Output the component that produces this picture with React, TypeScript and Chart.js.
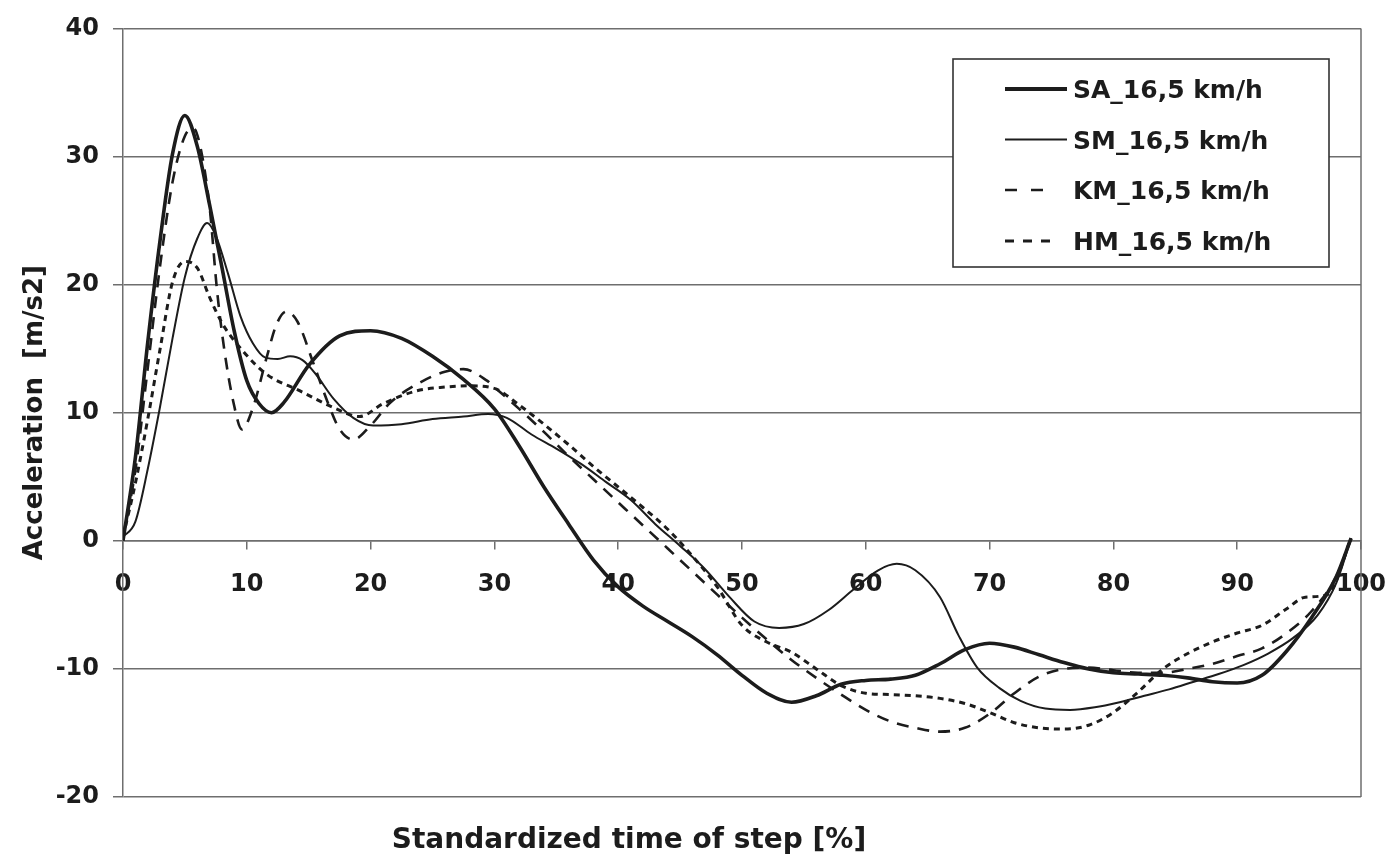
import React, { useEffect, useRef } from "react";
import { Chart, registerables } from "chart.js";

Chart.register(...registerables);

// ---- data ----
const SERIES_NAMES = ["SA_16,5 km/h", "SM_16,5 km/h", "KM_16,5 km/h", "HM_16,5 km/h"];
const X_TITLE = "Standardized time of step [%]";
const Y_TITLE = "Acceleration  [m/s2]";

const SA_X = [0, 1, 2, 3, 4, 5, 6, 7, 8, 9, 10, 11, 12, 13, 15, 17.5, 20, 22.5, 25, 27.5, 30, 32, 34, 36, 38, 40, 42, 44, 46, 48, 50, 52, 54, 56, 58, 60, 62, 64, 66, 68, 70, 72, 74, 76, 78, 80, 82, 84, 86, 88, 90, 92, 94, 96, 98, 99.2];
const SA_Y = [0, 6.5, 15.5, 23.5, 30.2, 33.2, 30.8, 26.2, 21.3, 16.3, 12.5, 10.7, 10.0, 10.8, 13.7, 16.0, 16.4, 15.8, 14.4, 12.6, 10.3, 7.4, 4.2, 1.3, -1.5, -3.6, -5.1, -6.3, -7.5, -8.9, -10.5, -11.9, -12.6, -12.1, -11.2, -10.9, -10.8, -10.5, -9.6, -8.5, -8.0, -8.3, -8.9, -9.5, -10.0, -10.3, -10.4, -10.5, -10.7, -11.0, -11.1, -10.5, -8.6, -6.0, -2.8, 0.2];

const SM_X = [0, 1, 2, 3, 4, 5, 6, 6.8, 7.5, 8.5, 9.5, 10.5, 11.5, 12.5, 13.5, 14.5, 15.5, 17, 18.6, 20.2, 22.5, 25, 27.5, 29.5, 31, 33, 35, 37, 39, 41, 43, 45, 47, 49, 51, 53, 55, 57, 59, 61, 62.5, 64, 66, 67.5, 69, 70.8, 72.5, 74.5, 76.5, 78.5, 80.5, 82.5, 84.5, 86.5, 88.5, 90.5, 92.5, 94.5, 96.5, 98, 99.2];
const SM_Y = [0.3, 1.5, 5.6, 10.5, 15.8, 20.6, 23.6, 24.8, 23.8, 20.8, 17.5, 15.4, 14.3, 14.2, 14.4, 14.1, 13.1, 11.1, 9.6, 9.0, 9.1, 9.5, 9.7, 9.9, 9.6, 8.3, 7.2, 6.0, 4.6, 3.2, 1.3, -0.4, -2.2, -4.4, -6.3, -6.8, -6.5, -5.4, -3.8, -2.3, -1.8, -2.3, -4.4, -7.4, -9.9, -11.5, -12.5, -13.1, -13.2, -13.0, -12.6, -12.1, -11.6, -11.0, -10.4, -9.7, -8.8, -7.6, -5.8, -3.3, 0.2];

const KM_X = [0, 1, 2, 3, 4, 5, 5.7, 6.3, 7, 7.6, 8.2, 8.9, 9.6, 10.5, 11.6, 12.4, 13.2, 14.1, 15.4, 16.5, 17.5, 18.6, 20, 21.6, 23.7, 26, 27.5, 29.4, 30, 32, 34, 36, 38, 40, 42, 44, 46, 48, 50, 52, 54, 56, 58, 60, 62, 64, 66, 68, 70, 72, 74, 76, 78, 80, 82, 84, 86, 88, 90, 92, 94, 96, 98, 99.2];
const KM_Y = [0.3, 5.5, 13.5, 21.5, 28.0, 31.6, 32.2, 30.5, 26.0, 19.5, 14.8, 10.9, 8.7, 10.4, 14.3, 16.9, 17.9, 17.1, 13.8, 10.9, 8.7, 7.9, 9.0, 10.8, 12.2, 13.2, 13.4, 12.5, 12.0, 10.3, 8.5, 6.6, 4.8, 3.0, 1.2, -0.6, -2.4, -4.2, -6.0, -7.7, -9.3, -10.7, -12.0, -13.2, -14.1, -14.6, -14.9, -14.6, -13.5, -11.9, -10.6, -10.0, -9.9, -10.1, -10.3, -10.3, -10.0, -9.6, -9.0, -8.4, -7.2, -5.5, -2.8, 0.2];

const HM_X = [0, 1, 2, 3, 4, 5, 6, 7, 8, 9.7, 11.6, 14.3, 17, 19.1, 21, 23.7, 26, 28, 30, 32, 34, 36, 38, 40, 42, 44, 46, 48, 50, 52, 54, 56, 58, 60, 62, 64, 66, 68, 70, 72, 74, 76, 78, 80, 82, 84, 86, 88, 90, 92, 94, 95.5, 97.3, 99.2];
const HM_Y = [0.3, 4.5, 9.5, 15.0, 20.2, 21.8, 21.3, 19.0, 17.0, 14.8, 13.0, 11.7, 10.4, 9.7, 10.7, 11.7, 12.0, 12.1, 11.9, 10.6, 9.1, 7.5, 5.8, 4.2, 2.6, 0.9, -1.2, -3.6, -6.6, -7.9, -8.7, -10.0, -11.3, -11.9, -12.0, -12.1, -12.3, -12.7, -13.4, -14.2, -14.6, -14.7, -14.4, -13.4, -11.8, -10.0, -8.8, -7.9, -7.2, -6.6, -5.3, -4.4, -4.2, 0.2];

// ---- styles ----
const FONT = "'DejaVu Sans', sans-serif";
const INK = "#1c1c1c";
const GRID = "#6e6e6e";

const toPts = (xs: number[], ys: number[]) => xs.map((x, i) => ({ x, y: ys[i] }));

const STYLES = [
  { width: 3.6, dash: [] as number[] },
  { width: 2.0, dash: [] as number[] },
  { width: 2.6, dash: [12, 9] },
  { width: 3.0, dash: [6, 5] },
];

const decorPlugin = {
  id: "decor",
  afterDraw(chart: any) {
    const { ctx, chartArea: a } = chart;
    ctx.save();
    // right frame line
    ctx.strokeStyle = GRID;
    ctx.lineWidth = 1.5;
    ctx.beginPath();
    ctx.moveTo(a.right, a.top);
    ctx.lineTo(a.right, a.bottom);
    ctx.stroke();

    // legend box
    const bx = 953, by = 59, bw = 376, bh = 208;
    ctx.fillStyle = "#ffffff";
    ctx.fillRect(bx, by, bw, bh);
    ctx.strokeStyle = "#333333";
    ctx.lineWidth = 1.6;
    ctx.strokeRect(bx, by, bw, bh);
    const rows = [89, 139.5, 190, 241];
    const sampleEnds = [1067, 1067, 1045, 1052];
    ctx.font = `bold 25px ${FONT}`;
    ctx.textAlign = "left";
    ctx.textBaseline = "alphabetic";
    SERIES_NAMES.forEach((name, i) => {
      const st = STYLES[i];
      ctx.strokeStyle = INK;
      ctx.lineWidth = i === 0 ? 4 : st.width;
      ctx.setLineDash(i === 2 ? [12, 14] : i === 3 ? [9, 9] : []);
      ctx.beginPath();
      ctx.moveTo(1005, rows[i]);
      ctx.lineTo(sampleEnds[i], rows[i]);
      ctx.stroke();
      ctx.setLineDash([]);
      ctx.fillStyle = INK;
      ctx.fillText(name, 1073, rows[i] + 9);
    });

    // x axis title
    ctx.font = `bold 28px ${FONT}`;
    ctx.textAlign = "center";
    ctx.fillStyle = INK;
    ctx.fillText(X_TITLE, 629, 848);
    ctx.restore();
  },
};

export default function App() {
  const ref = useRef<HTMLCanvasElement | null>(null);

  useEffect(() => {
    if (!ref.current) return;
    const sets = [
      [SA_X, SA_Y],
      [SM_X, SM_Y],
      [KM_X, KM_Y],
      [HM_X, HM_Y],
    ];
    const chart = new Chart(ref.current, {
      type: "line",
      data: {
        datasets: sets.map(([xs, ys], i) => ({
          label: SERIES_NAMES[i],
          data: toPts(xs, ys),
          borderColor: INK,
          borderWidth: STYLES[i].width,
          borderDash: STYLES[i].dash,
          pointRadius: 0,
          fill: false,
          cubicInterpolationMode: "monotone" as const,
        })),
      },
      options: {
        responsive: false,
        animation: false,
        layout: { padding: { top: 27, right: 31, bottom: 60, left: 0 } },
        plugins: {
          legend: { display: false },
          tooltip: { enabled: false },
        },
        scales: {
          x: {
            type: "linear",
            min: 0,
            max: 100,
            position: { y: 0 } as any,
            ticks: {
              stepSize: 10,
              autoSkip: false,
              maxRotation: 0,
              padding: 22,
              color: INK,
              font: { family: FONT, size: 24, weight: "bold" },
            },
            grid: {
              drawOnChartArea: false,
              drawTicks: true,
              tickLength: 8,
              color: GRID,
              lineWidth: 1.5,
            },
            border: { display: true, color: GRID, width: 1.5 },
            afterFit: (s: any) => {
              s.paddingRight = 0;
              s.paddingLeft = 0;
            },
          },
          y: {
            type: "linear",
            min: -20,
            max: 40,
            ticks: {
              stepSize: 10,
              padding: 14,
              color: INK,
              font: { family: FONT, size: 24, weight: "bold" },
            },
            grid: { color: GRID, lineWidth: 1.5, tickLength: 10, drawTicks: true },
            border: { display: true, color: GRID, width: 1.5 },
            title: {
              display: true,
              text: Y_TITLE,
              color: INK,
              font: { family: FONT, size: 26, weight: "bold" },
              padding: { top: 20, bottom: 0 },
            },
            afterFit: (s: any) => {
              s.width = 123;
            },
          },
        },
      },
      plugins: [decorPlugin],
    });
    return () => chart.destroy();
  }, []);

  return (
    <div style={{ position: "absolute", left: 0, top: 0, width: 1392, height: 857, background: "#ffffff" }}>
      <canvas ref={ref} width={1392} height={857} style={{ display: "block" }} />
    </div>
  );
}
